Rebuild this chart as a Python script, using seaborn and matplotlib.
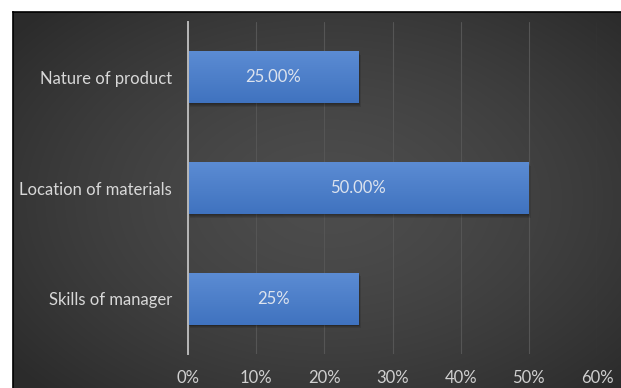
import numpy as np
import pandas as pd
import matplotlib
matplotlib.use("Agg")
import matplotlib.pyplot as plt
import seaborn as sns
from matplotlib.patches import Rectangle

# Factors and their shares
factors = ["Nature of product", "Location of materials", "Skills of manager"]
shares = [0.25, 0.50, 0.25]
value_labels = ["25.00%", "50.00%", "25%"]
x_ticks = [0.0, 0.1, 0.2, 0.3, 0.4, 0.5, 0.6]
x_tick_labels = ["0%", "10%", "20%", "30%", "40%", "50%", "60%"]

df = pd.DataFrame({"factor": factors, "share": shares})

sns.set_theme(style="white")
plt.rcParams["font.family"] = ["Lato", "DejaVu Sans"]

W, H = 621, 388
fig = plt.figure(figsize=(W / 100, H / 100), dpi=100)
fig.patch.set_facecolor("white")

# Dark panel with a soft radial glow, framed by a thin black line
bg = fig.add_axes([13 / W, 0, 1 - 13 / W, 1 - 12 / H])
yy, xx = np.mgrid[0:1:300j, 0:1:480j]
r = np.sqrt(((xx - 0.52) / 0.7) ** 2 + ((yy - 0.5) / 0.75) ** 2)
shade = np.clip(0.30 - 0.14 * r ** 1.5, 0.17, 0.30)
bg.imshow(np.dstack([shade] * 3), extent=[0, 1, 0, 1], aspect="auto", interpolation="bilinear")
bg.set_xlim(0, 1)
bg.set_ylim(0, 1)
bg.set_xticks([])
bg.set_yticks([])
for s in bg.spines.values():
    s.set_color("black")
    s.set_linewidth(1.2)
bg.spines["right"].set_visible(False)
bg.spines["bottom"].set_visible(False)

ax = fig.add_axes([188 / W, 1 - 354 / H, (597 - 188) / W, (354 - 22) / H])
ax.patch.set_alpha(0)

sns.barplot(data=df, x="share", y="factor", orient="h", color="#4a7fc8",
            width=0.47, saturation=1, linewidth=0, ax=ax, zorder=3)

ax.set_xlim(0, 0.6)
ax.set_ylim(2.5, -0.5)

# Vertical gradient and a soft drop shadow on each bar
grad = np.linspace(0, 1, 64).reshape(-1, 1)
top_c = np.array([0.36, 0.55, 0.83])
bot_c = np.array([0.25, 0.45, 0.75])
for p in list(ax.patches):
    p.set_linewidth(0)
    x0, y0 = p.get_x(), p.get_y()
    w, h = p.get_width(), p.get_height()
    for k in range(1, 5):
        ax.add_patch(Rectangle((x0 + 0.0008 * k, y0 + 0.008 * k), w, h, color="black",
                               alpha=0.10, zorder=2, linewidth=0))
    img = top_c[None, None, :] * (1 - grad[:, :, None]) + bot_c[None, None, :] * grad[:, :, None]
    im = ax.imshow(img, extent=[x0, x0 + w, y0 + h, y0], aspect="auto", zorder=4,
                   interpolation="bilinear")
    im.set_clip_path(p)
    ax.set_xlim(0, 0.6)
    ax.set_ylim(2.5, -0.5)

for i, (v, lab) in enumerate(zip(shares, value_labels)):
    ax.text(v / 2, i, lab, ha="center", va="center", color="#dce3ee", fontsize=12, zorder=5)

ax.set_xticks(x_ticks)
ax.set_xticklabels(x_tick_labels)
ax.xaxis.grid(True, color="#555555", linewidth=0.8, zorder=0)
ax.yaxis.grid(False)
ax.tick_params(axis="x", length=0, pad=11.5, colors="#d0d0d0", labelsize=12)
ax.tick_params(axis="y", length=0, pad=11.5, colors="#d8d8d8", labelsize=12)
ax.set_xlabel("")
ax.set_ylabel("")
for name in ["top", "right", "bottom"]:
    ax.spines[name].set_visible(False)
ax.spines["left"].set_color("#b8b8b8")
ax.spines["left"].set_linewidth(1.4)
ax.spines["left"].set_zorder(6)

fig.savefig("out.png", dpi=100, facecolor=fig.get_facecolor())
